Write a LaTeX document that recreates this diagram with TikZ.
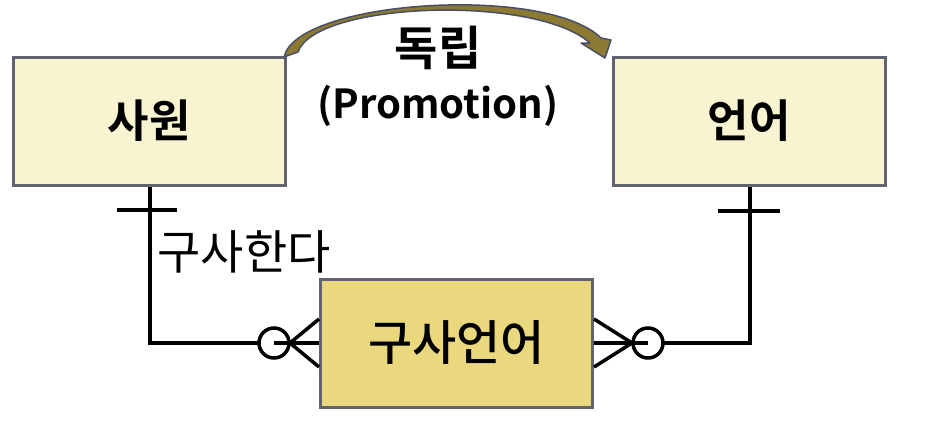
\documentclass[tikz,border=0pt]{standalone}
\usepackage{fontspec}
\newfontfamily\kr{Noto Sans CJK KR}[BoldFont={Noto Sans CJK KR Bold}]
\newfontfamily\krm{Noto Sans CJK KR Medium}
\definecolor{lightbox}{RGB}{248,243,208}
\definecolor{darkbox}{RGB}{233,216,126}
\definecolor{boxline}{RGB}{95,100,112}
\definecolor{arrowfill}{RGB}{140,122,50}
\definecolor{arrowline}{RGB}{72,78,102}
\tikzset{
  entity/.style={draw=boxline, line width=3pt, fill=lightbox, minimum width=272pt, minimum height=128pt, inner sep=0pt},
  relbox/.style={entity, fill=darkbox},
  conn/.style={line width=3.5pt, black},
  crow/.style={draw, circle, line width=3.5pt, minimum size=30pt, inner sep=0pt, fill=white},
}
\begin{document}
\begin{tikzpicture}[x=1pt,y=-1pt]
\useasboundingbox (0,0) rectangle (932,421);
\node[entity] (emp) at (149,121) {\kr\bfseries\fontsize{45}{52}\selectfont 사원};
\node[entity] (lang) at (749,121) {\kr\bfseries\fontsize{45}{52}\selectfont 언어};
\node[relbox] (use) at (456.5,343) {\krm\fontsize{48}{56}\selectfont 구사언어};
% curved arrow
\filldraw[fill=arrowfill, draw=arrowline, line width=1.5pt, line join=round]
  (284,57) .. controls (297,0) and (546,-16) .. (601,38)
  -- (611,40) -- (605,58) -- (581,43) -- (590,43)
  .. controls (535,-6) and (315,2) .. (298,52) -- cycle;
\node[font=\kr\bfseries\fontsize{47}{52}\selectfont] (t1) at (438,48) {독립};
\node[font=\kr\bfseries\fontsize{40}{46}\selectfont] (t2) at (438,106) {(Promotion)};
% left connector
\coordinate (lc) at (150,343);
\draw[conn] (emp.south -| lc) -- (lc) -- (use.west);
\coordinate (lt1) at (117,210);
\coordinate (lt2) at (177,210);
\draw[conn] (lt1) -- (lt2);
\node[crow] (lo) at (274,343) {};
\draw[conn] (lo.center) -- (use.west);
\coordinate (lf) at (290,343);
\draw[conn] (lf) -- ([yshift=-24pt]use.west);
\draw[conn] (lf) -- ([yshift=24pt]use.west);
\node[font=\kr\fontsize{47}{52}\selectfont, anchor=west] (verb) at (154,252) {구사한다};
% right connector
\coordinate (rc) at (750,343);
\draw[conn] (lang.south -| rc) -- (rc) -- (use.east);
\coordinate (rt1) at (718,211);
\coordinate (rt2) at (780,211);
\draw[conn] (rt1) -- (rt2);
\node[crow] (ro) at (648,343) {};
\draw[conn] (ro.center) -- (use.east);
\coordinate (rf) at (632,343);
\draw[conn] (rf) -- ([yshift=-24pt]use.east);
\draw[conn] (rf) -- ([yshift=24pt]use.east);
\end{tikzpicture}
\end{document}
